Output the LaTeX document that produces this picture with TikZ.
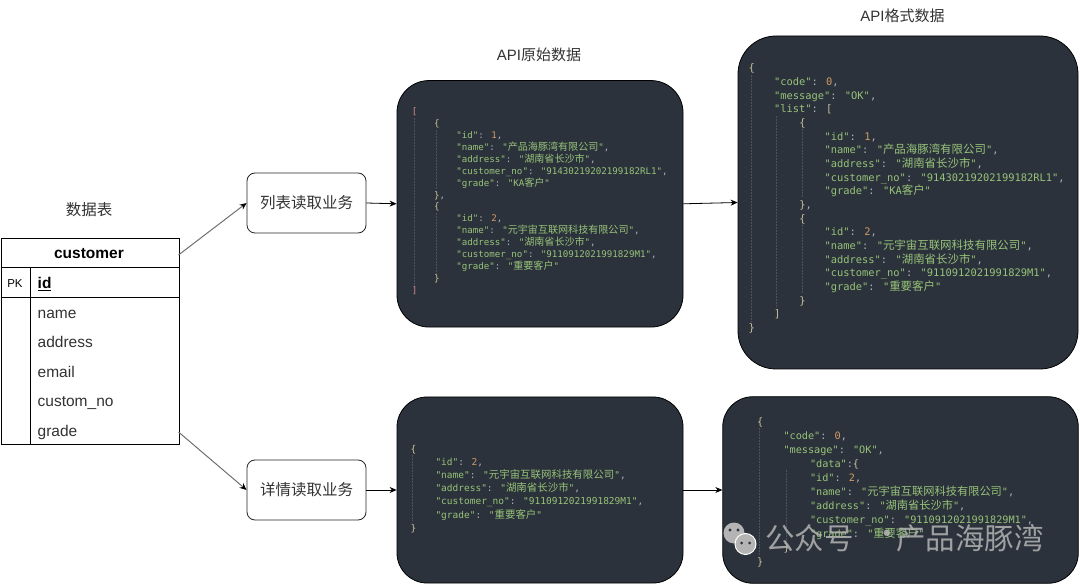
\documentclass[tikz,border=0pt]{standalone}
\usepackage{fontspec}
\setmainfont{Liberation Sans}
\newfontfamily\cjk{Noto Sans CJK SC}
\newfontfamily\codefont{DejaVu Sans Mono}
\newfontfamily\codecjk[Scale=1.1]{Noto Sans CJK SC}
\usetikzlibrary{arrows.meta}
\definecolor{codebg}{HTML}{2B323B}
\definecolor{jkey}{HTML}{98C379}
\definecolor{jstr}{HTML}{98C379}
\definecolor{jnum}{HTML}{D19A66}
\definecolor{jpun}{HTML}{ABB2BF}
\definecolor{jbrace}{HTML}{C9C29A}
\definecolor{jbrack}{HTML}{D08C8C}
\definecolor{guidec}{HTML}{4B535D}
\definecolor{labelc}{HTML}{333333}
\definecolor{garrc}{HTML}{707070}
\definecolor{wmc}{HTML}{B4B4B4}
\newlength\indu
\newcommand\ind[1]{\hspace*{#1\indu}}
\newcommand\jk[1]{\textcolor{jkey}{"#1"}}
\newcommand\js[1]{\textcolor{jstr}{"#1"}}
\newcommand\jc[1]{\textcolor{jstr}{"{\codecjk #1}"}}
\newcommand\jn[1]{\textcolor{jnum}{#1}}
\newcommand\jb[1]{\textcolor{jbrace}{#1}}
\newcommand\fl{\rule{0pt}{1em}}
\tikzset{
  codebox/.style={draw=black, fill=codebg, line width=0.8pt, inner sep=0pt},
  code/.style={anchor=north west, inner sep=0pt, align=left, text=jpun},
  proc/.style={draw=black!85, line width=0.8pt, rounded corners=8pt, minimum width=119pt, minimum height=60pt, inner sep=0pt, font=\cjk\fontsize{15.5}{18}\selectfont, text=labelc, fill=white},
  lab/.style={inner sep=0pt, text=labelc},
  fld/.style={anchor=base west, inner sep=0pt, text=labelc, font=\fontsize{15.5}{18}\selectfont},
  darr/.style={-{Stealth[length=7pt,width=6pt]}, line width=0.8pt, draw=black},
  garr/.style={-{Stealth[length=7pt,width=6pt,black]}, line width=1pt, draw=garrc},
  guide/.style={draw=guidec, densely dotted, line width=0.5pt},
  tline/.style={draw=black, line width=0.9pt},
  wm/.style={inner sep=0pt, text=wmc, text opacity=0.85, font=\cjk\fontsize{29.5}{32}\selectfont},
  bubble/.style={fill=wmc, circle, minimum size=21pt, inner sep=0pt},
}
\begin{document}
\begin{tikzpicture}[x=1pt,y=-1pt]
\useasboundingbox (0,0) rectangle (1080,585);
\fill[white] (0,0) rectangle (1080,585);

% ---------- table ----------
\node[lab, font=\cjk\fontsize{15.5}{18}\selectfont] (tbltitle) at (89,210) {数据表};
\node[tline, draw, minimum width=178pt, minimum height=206.5pt, inner sep=0pt, anchor=north west] (tbl) at (0.5,238) {};
\draw[tline] (0.5,267.5) -- (178.5,267.5);
\draw[tline] (0.5,297) -- (178.5,297);
\draw[tline] (30,267.5) -- (30,444.5);
\node[fld, anchor=base, text=black, font=\bfseries\fontsize{15.5}{18}\selectfont] (thead) at (89,258.5) {customer};
\node[fld, anchor=base, text=black, font=\fontsize{11.5}{14}\selectfont] (pk) at (15,287.5) {PK};
\node[fld, text=black, font=\bfseries\fontsize{15.5}{18}\selectfont] (fid) at (37.5,288.5) {\underline{id}};
\node[fld] (fname) at (37.5,318.5) {name};
\node[fld] (faddr) at (37.5,348) {address};
\node[fld] (fmail) at (37.5,377.5) {email};
\node[fld] (fno) at (37.5,407) {custom\_no};
\node[fld] (fgrade) at (37.5,436.5) {grade};
\coordinate (tblA) at (178.5,255);
\coordinate (tblB) at (178.5,432);

% ---------- process boxes ----------
\node[proc] (list) at (306.5,203) {列表读取业务};
\node[proc] (detail) at (306.5,490) {详情读取业务};

% ---------- code boxes ----------
\node[codebox, rounded corners=32pt, minimum width=286pt, minimum height=246.5pt] (b1) at (540,203.8) {};
\node[codebox, rounded corners=38pt, minimum width=340pt, minimum height=333pt] (b2) at (908,202.5) {};
\node[codebox, rounded corners=30pt, minimum width=286pt, minimum height=186pt] (b3) at (540,490) {};
\node[codebox, rounded corners=30pt, minimum width=355.5pt, minimum height=186.5pt] (b4) at (900.5,490) {};

\node[lab, font=\fontsize{15}{18}\selectfont] (title1) at (539,55) {API{\cjk 原始数据}};
\node[lab, font=\fontsize{15}{18}\selectfont] (title2) at (902.5,15.5) {API{\cjk 格式数据}};

% indent guides
\draw[guide] (414.3,118) -- (414.3,286);
\draw[guide] (436.5,130) -- (436.5,190);
\draw[guide] (436.5,213) -- (436.5,274);
\draw[guide] (751.5,75) -- (751.5,322);
\draw[guide] (776.5,116) -- (776.5,308);
\draw[guide] (802,129) -- (802,198);
\draw[guide] (802,225) -- (802,294);
\draw[guide] (412.5,455) -- (412.5,521);
\draw[guide] (759.5,428) -- (759.5,555);
\draw[guide] (786,470) -- (786,541);

% code 1
\setlength\indu{22.3pt}
\node[code, font=\codefont\fontsize{9.15}{11.93}\selectfont] (t1) at (411.6,105.2) {%
\fl\textcolor{jbrack}{[}\\
\ind{1}\jb{\{}\\
\ind{2}\jk{id}: \jn{1},\\
\ind{2}\jk{name}: \jc{产品海豚湾有限公司},\\
\ind{2}\jk{address}: \jc{湖南省长沙市},\\
\ind{2}\jk{customer\_no}: \js{91430219202199182RL1},\\
\ind{2}\jk{grade}: \js{KA{\codecjk 客户}}\\
\ind{1}\jb{\}},\\
\ind{1}\jb{\{}\\
\ind{2}\jk{id}: \jn{2},\\
\ind{2}\jk{name}: \jc{元宇宙互联网科技有限公司},\\
\ind{2}\jk{address}: \jc{湖南省长沙市},\\
\ind{2}\jk{customer\_no}: \js{9110912021991829M1},\\
\ind{2}\jk{grade}: \jc{重要客户}\\
\ind{1}\jb{\}}\\
\textcolor{jbrack}{]}};

% code 2
\setlength\indu{25.3pt}
\node[code, font=\codefont\fontsize{10.4}{13.68}\selectfont] (t2) at (748.5,61.1) {%
\fl\jb{\{}\\
\ind{1}\jk{code}: \jn{0},\\
\ind{1}\jk{message}: \js{OK},\\
\ind{1}\jk{list}: \jb{[}\\
\ind{2}\jb{\{}\\
\ind{3}\jk{id}: \jn{1},\\
\ind{3}\jk{name}: \jc{产品海豚湾有限公司},\\
\ind{3}\jk{address}: \jc{湖南省长沙市},\\
\ind{3}\jk{customer\_no}: \js{91430219202199182RL1},\\
\ind{3}\jk{grade}: \js{KA{\codecjk 客户}}\\
\ind{2}\jb{\}},\\
\ind{2}\jb{\{}\\
\ind{3}\jk{id}: \jn{2},\\
\ind{3}\jk{name}: \jc{元宇宙互联网科技有限公司},\\
\ind{3}\jk{address}: \jc{湖南省长沙市},\\
\ind{3}\jk{customer\_no}: \js{9110912021991829M1},\\
\ind{3}\jk{grade}: \jc{重要客户}\\
\ind{2}\jb{\}}\\
\ind{1}\jb{]}\\
\jb{\}}};

% code 3
\setlength\indu{25pt}
\node[code, font=\codefont\fontsize{9.5}{13.23}\selectfont] (t3) at (410.3,442.3) {%
\fl\jb{\{}\\
\ind{1}\jk{id}: \jn{2},\\
\ind{1}\jk{name}: \jc{元宇宙互联网科技有限公司},\\
\ind{1}\jk{address}: \jc{湖南省长沙市},\\
\ind{1}\jk{customer\_no}: \js{9110912021991829M1},\\
\ind{1}\jk{grade}: \jc{重要客户}\\
\jb{\}}};

% code 4
\setlength\indu{26.5pt}
\node[code, font=\codefont\fontsize{10.2}{14}\selectfont] (t4) at (756.8,414.8) {%
\fl\jb{\{}\\
\ind{1}\jk{code}: \jn{0},\\
\ind{1}\jk{message}: \js{OK},\\
\ind{2}\jk{data}:\jb{\{}\\
\ind{2}\jk{id}: \jn{2},\\
\ind{2}\jk{name}: \jc{元宇宙互联网科技有限公司},\\
\ind{2}\jk{address}: \jc{湖南省长沙市},\\
\ind{2}\jk{customer\_no}: \js{9110912021991829M1},\\
\ind{2}\jk{grade}: \jc{重要客户}\\
\ind{1}\jb{\}}\\
\jb{\}}};

% ---------- connectors ----------
\draw[garr] (tblA) -- (list.west);
\draw[garr] (tblB) -- (detail.west);
\draw[darr] (list.east) -- (b1.west);
\draw[darr] (detail.east) -- (b3.west);
\draw[darr] (b1.east) -- (b2.west);
\draw[darr] (b3.east) -- (b4.west);

% ---------- watermark ----------
\node[bubble] (wbig) at (734,533) {};
\node[bubble, draw=white, line width=1pt] (wsmall) at (745.5,544) {};
\fill[codebg] (730,530) circle (1.6pt) (738,530) circle (1.6pt);
\fill[codebg] (741.5,543) circle (1.5pt) (749.5,543) circle (1.5pt);
\node[wm, anchor=west] (wm1) at (765,538) {公众号};
\node[wm] (wmdot) at (887,537) {·};
\node[wm, anchor=west] (wm2) at (896,538) {产品海豚湾};
\end{tikzpicture}
\end{document}
